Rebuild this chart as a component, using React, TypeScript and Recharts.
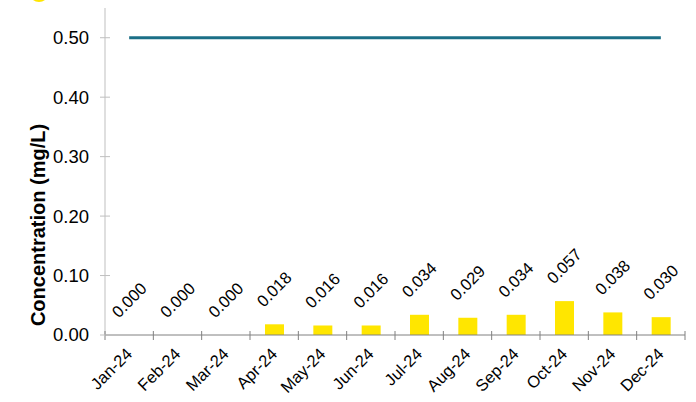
import React from "react";
import { ComposedChart, Bar, Line, XAxis, YAxis, LabelList } from "recharts";

const months = ["Jan-24", "Feb-24", "Mar-24", "Apr-24", "May-24", "Jun-24", "Jul-24", "Aug-24", "Sep-24", "Oct-24", "Nov-24", "Dec-24"];
const concentration = [0, 0, 0, 0.018, 0.016, 0.016, 0.034, 0.029, 0.034, 0.057, 0.038, 0.03];
const limit = [0.5, 0.5, 0.5, 0.5, 0.5, 0.5, 0.5, 0.5, 0.5, 0.5, 0.5, 0.5];
const yTicks = [0, 0.1, 0.2, 0.3, 0.4, 0.5];

const data = months.map((m, i) => ({ month: m, value: concentration[i], limit: limit[i] }));

const FONT = "'Liberation Sans', Arial, sans-serif";
const PLOT_W = 580;
const BAND = PLOT_W / months.length;

const YTick = (props: any) => {
  const { x, y, payload } = props;
  return (
    <g>
      <line x1={x - 5} x2={x + 5} y1={y} y2={y} stroke="#bfbfbf" strokeWidth={1} />
      <text x={x - 16} y={y} dy="0.35em" textAnchor="end" fontSize={18.5} fill="#000" fontFamily={FONT}>
        {payload.value.toFixed(2)}
      </text>
    </g>
  );
};

const XTick = (props: any) => {
  const { x, y, payload, index } = props;
  const left = x - BAND / 2;
  const right = x + BAND / 2;
  return (
    <g>
      <line x1={left} x2={left} y1={y - 4} y2={y + 5} stroke="#808080" strokeWidth={1} />
      {index === months.length - 1 && (
        <line x1={right} x2={right} y1={y - 4} y2={y + 5} stroke="#808080" strokeWidth={1} />
      )}
      <text
        x={x + 4}
        y={y + 20}
        textAnchor="end"
        fontSize={16.5}
        fill="#000"
        fontFamily={FONT}
        transform={`rotate(-45, ${x + 4}, ${y + 20})`}
      >
        {payload.value}
      </text>
    </g>
  );
};

// labels hang off an invisible line so zero values get one too
const ValueLabel = (props: any) => {
  const { x, y, value } = props;
  const cx = x;
  const cy = y - 35;
  return (
    <text
      x={cx}
      y={cy}
      dy="0.35em"
      textAnchor="middle"
      fontSize={16.5}
      fill="#000"
      fontFamily={FONT}
      transform={`rotate(-45, ${cx}, ${cy})`}
    >
      {Number(value).toFixed(3)}
    </text>
  );
};

const YLabel = () => (
  <text
    x={38}
    y={225}
    textAnchor="middle"
    dy="0.35em"
    fontSize={20}
    fontWeight="bold"
    fill="#000"
    fontFamily={FONT}
    transform="rotate(-90, 38, 225)"
  >
    Concentration (mg/L)
  </text>
);

export default function App() {
  return (
    <div style={{ position: "absolute", left: 0, top: 0, width: 696, height: 402, background: "#fff", overflow: "hidden" }}>
      <div
        style={{
          position: "absolute",
          left: 29,
          top: -18,
          width: 20,
          height: 20,
          borderRadius: "50%",
          background: "#FFE600",
        }}
      />
      <ComposedChart width={696} height={402} data={data} margin={{ top: 8, right: 11, bottom: 0, left: 45 }}>
        <XAxis
          dataKey="month"
          height={67}
          interval={0}
          tickSize={0}
          tickMargin={0}
          tickLine={false}
          axisLine={{ stroke: "#808080" }}
          tick={<XTick />}
        />
        <YAxis
          width={60}
          domain={[0, 0.55]}
          ticks={yTicks}
          tickSize={0}
          tickMargin={0}
          tickLine={false}
          axisLine={{ stroke: "#bfbfbf" }}
          tick={<YTick />}
          label={<YLabel />}
        />
        <Bar dataKey="value" fill="#FFE600" barSize={19} isAnimationActive={false} />
        <Line dataKey="value" stroke="none" dot={false} activeDot={false} isAnimationActive={false}>
          <LabelList dataKey="value" content={<ValueLabel />} />
        </Line>
        <Line dataKey="limit" stroke="#1B6F87" strokeWidth={3} dot={false} activeDot={false} isAnimationActive={false} />
      </ComposedChart>
    </div>
  );
}
